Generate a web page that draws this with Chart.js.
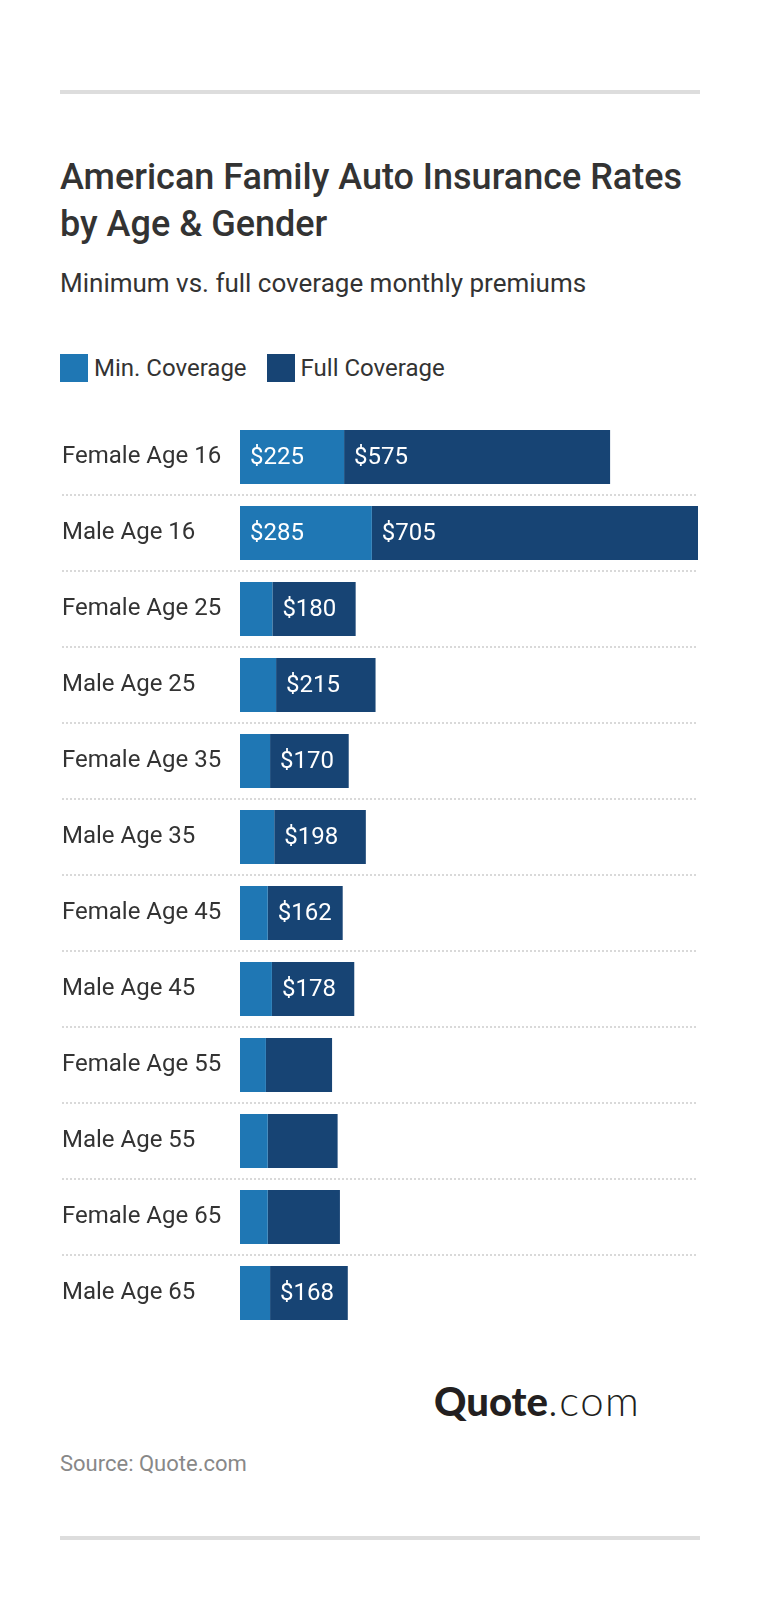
<!DOCTYPE html>
<html>
<head>
<meta charset="utf-8">
<script src="https://cdn.jsdelivr.net/npm/chart.js@4/dist/chart.umd.min.js"></script>
<style>
  html, body { margin: 0; padding: 0; background: #fff; }
  body { width: 760px; height: 1618px; position: relative; font-family: Roboto, "Noto Sans", sans-serif; color: #333; }
  .rule { position: absolute; left: 60px; width: 640px; height: 4px; background: #dddddd; }
  #title { position: absolute; left: 60px; top: 154px; font-size: 36px; font-weight: 500; line-height: 47px; color: #333; }
  #subtitle { position: absolute; left: 60px; top: 268px; font-size: 26px; line-height: 30px; color: #333; }
  #legend { position: absolute; left: 60px; top: 354px; display: flex; align-items: center; font-size: 24px; color: #333; }
  #legend .sw { width: 28px; height: 28px; display: inline-block; margin-right: 6px; }
  #legend .item { display: flex; align-items: center; margin-right: 20px; }
  #chartBox { position: absolute; left: 0; top: 419px; width: 760px; height: 912px; }
  #logo { position: absolute; left: 434px; top: 1378px; font-family: Lato, sans-serif; font-size: 40px; line-height: 44px; color: #231f20; }
  #logo b { font-weight: 900; }
  #logo span { font-weight: 300; font-size: 42px; letter-spacing: 1.5px; }
  #source { position: absolute; left: 60px; top: 1451px; font-size: 22px; line-height: 26px; color: #888; }
</style>
</head>
<body>
<div class="rule" style="top:90px"></div>
<div id="title">American Family Auto Insurance Rates<br>by Age &amp; Gender</div>
<div id="subtitle">Minimum vs. full coverage monthly premiums</div>
<div id="legend"></div>
<div id="chartBox"><canvas id="chart" width="760" height="912"></canvas></div>
<div id="logo"><b>Quote</b><span>.com</span></div>
<div id="source">Source: Quote.com</div>
<div class="rule" style="top:1536px"></div>

<script>
var categories = ['Female Age 16', 'Male Age 16', 'Female Age 25', 'Male Age 25',
    'Female Age 35', 'Male Age 35', 'Female Age 45', 'Male Age 45',
    'Female Age 55', 'Male Age 55', 'Female Age 65', 'Male Age 65'];
var minCoverage = [225, 285, 70, 78, 65, 74, 60, 69, 56, 60, 60, 65];
var fullCoverage = [575, 705, 180, 215, 170, 198, 162, 178, 143, 151, 156, 168];
var seriesNames = ['Min. Coverage', 'Full Coverage'];
var seriesColors = ['#1f77b4', '#174474'];
// values below these are left without a label (as in the original)
var labelMin = [100, 160];

// legend
var legend = document.getElementById('legend');
for (var s = 0; s < seriesNames.length; s++) {
    var item = document.createElement('div');
    item.className = 'item';
    item.innerHTML = '<span class="sw" style="background:' + seriesColors[s] + '"></span>' + seriesNames[s];
    legend.appendChild(item);
}

var totals = minCoverage.map(function(v, i) { return v + fullCoverage[i]; });

// dotted lines between rows
var separators = {
    id: 'separators',
    beforeDatasetsDraw: function(chart) {
        var ctx = chart.ctx;
        var y = chart.scales.y;
        ctx.save();
        ctx.strokeStyle = '#d9d9d9';
        ctx.lineWidth = 2;
        ctx.setLineDash([2, 2]);
        for (var i = 1; i < categories.length; i++) {
            var py = Math.round((y.getPixelForValue(i - 1) + y.getPixelForValue(i)) / 2);
            ctx.beginPath();
            ctx.moveTo(62, py);
            ctx.lineTo(chart.chartArea.right, py);
            ctx.stroke();
        }
        ctx.restore();
    }
};

// "$225" style labels inside the bar segments
var valueLabels = {
    id: 'valueLabels',
    afterDatasetsDraw: function(chart) {
        var ctx = chart.ctx;
        ctx.save();
        ctx.font = '400 24px Roboto';
        ctx.fillStyle = '#ffffff';
        ctx.textAlign = 'left';
        ctx.textBaseline = 'middle';
        chart.data.datasets.forEach(function(ds, di) {
            var meta = chart.getDatasetMeta(di);
            meta.data.forEach(function(bar, i) {
                var v = ds.data[i];
                if (v < labelMin[di]) return;
                var left = Math.min(bar.base, bar.x);
                ctx.fillText('$' + v, left + 10, bar.y + 1);
            });
        });
        ctx.restore();
    }
};

var chart = new Chart(document.getElementById('chart').getContext('2d'), {
    type: 'bar',
    data: {
        labels: categories,
        datasets: [
            { label: seriesNames[0], data: minCoverage, backgroundColor: seriesColors[0] },
            { label: seriesNames[1], data: fullCoverage, backgroundColor: seriesColors[1] }
        ]
    },
    options: {
        indexAxis: 'y',
        responsive: false,
        animation: false,
        events: [],
        layout: { padding: { left: 62, right: 62, top: 0, bottom: 0 } },
        datasets: { bar: { barPercentage: 0.71, categoryPercentage: 1, borderWidth: 0 } },
        plugins: { legend: { display: false }, tooltip: { enabled: false } },
        scales: {
            x: {
                stacked: true,
                display: false,
                min: 0,
                max: Math.max.apply(null, totals)
            },
            y: {
                stacked: true,
                grid: { display: false },
                border: { display: false },
                afterFit: function(scale) {
                    scale.width = 178;
                    scale.paddingTop = 0;
                    scale.paddingBottom = 0;
                },
                ticks: {
                    crossAlign: 'far',
                    color: '#333333',
                    font: { family: 'Roboto', size: 24 }
                }
            }
        }
    },
    plugins: [separators, valueLabels]
});
</script>
</body>
</html>
